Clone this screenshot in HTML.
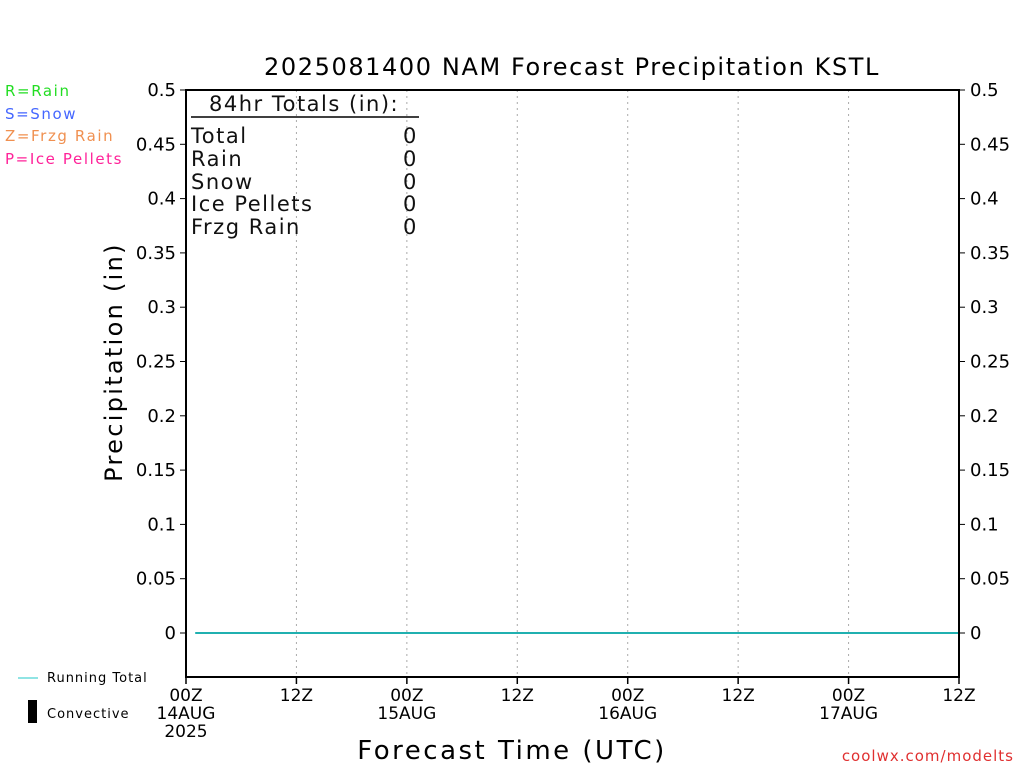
<!DOCTYPE html>
<html><head><meta charset="utf-8"><style>
body{margin:0;background:#fff}
svg{display:block;font-family:"DejaVu Sans","Liberation Sans",sans-serif}
</style></head><body>
<svg id="chart" width="1024" height="768" viewBox="0 0 1024 768">
<text x="572" y="75" font-size="24" letter-spacing="1.6" text-anchor="middle" fill="#000">2025081400 NAM Forecast Precipitation KSTL</text>
<g font-size="15" letter-spacing="1.6">
<text x="5" y="96" fill="#22dd22">R=Rain</text>
<text x="5" y="119" fill="#4466ff">S=Snow</text>
<text x="5" y="141" fill="#f09050">Z=Frzg Rain</text>
<text x="5" y="164" fill="#ff2299">P=Ice Pellets</text>
</g>
<g id="grid"></g>
<g id="series"></g>
<rect x="186" y="90" width="773" height="587" fill="none" stroke="#000" stroke-width="2"/>
<g id="yticks" font-size="17" fill="#000"></g>
<g id="xticks" font-size="16" fill="#000" text-anchor="middle"></g>
<g font-size="21" fill="#111" letter-spacing="1.5">
<text x="209" y="111">84hr Totals (in):</text>
<line x1="191" y1="117" x2="419" y2="117" stroke="#000" stroke-width="1.5"/>
<text x="191" y="143">Total</text><text x="403" y="143">0</text>
<text x="191" y="166">Rain</text><text x="403" y="166">0</text>
<text x="191" y="189">Snow</text><text x="403" y="189">0</text>
<text x="191" y="211">Ice Pellets</text><text x="403" y="211">0</text>
<text x="191" y="234">Frzg Rain</text><text x="403" y="234">0</text>
</g>
<text transform="translate(122,362) rotate(-90)" font-size="24" letter-spacing="2.3" text-anchor="middle">Precipitation (in)</text>
<text x="512" y="759" font-size="26" letter-spacing="2.5" text-anchor="middle">Forecast Time (UTC)</text>
<g font-size="13" letter-spacing="1">
<line x1="18" y1="678" x2="38" y2="678" stroke="#20c8c8" stroke-width="1"/>
<text x="47" y="682">Running Total</text>
<rect x="28" y="700" width="9" height="23" fill="#000"/>
<text x="47" y="718">Convective</text>
</g>
<text x="1014" y="761" font-size="15" fill="#e03030" letter-spacing="1" text-anchor="end">coolwx.com/modelts</text>
</svg>
<script>
const yTickValues=[0,0.05,0.1,0.15,0.2,0.25,0.3,0.35,0.4,0.45,0.5];
const yTickLabels=["0","0.05","0.1","0.15","0.2","0.25","0.3","0.35","0.4","0.45","0.5"];
const xTickHours=[0,12,24,36,48,60,72,84];
const xTickLabels=[["00Z","14AUG","2025"],["12Z"],["00Z","15AUG"],["12Z"],["00Z","16AUG"],["12Z"],["00Z","17AUG"],["12Z"]];
const forecastHours=[1,3,6,9,12,15,18,21,24,27,30,33,36,39,42,45,48,51,54,57,60,63,66,69,72,75,78,81,84];
const runningTotal=[0,0,0,0,0,0,0,0,0,0,0,0,0,0,0,0,0,0,0,0,0,0,0,0,0,0,0,0,0];
const NS="http://www.w3.org/2000/svg";
const X0=186,X1=959,Y0=633,YTOP=90;
const xs=h=>X0+(X1-X0)*h/84;
const ys=v=>Y0-(Y0-YTOP)*v/0.5;
function mk(t,a,p){const e=document.createElementNS(NS,t);for(const k in a)e.setAttribute(k,a[k]);p.appendChild(e);return e;}
const grid=document.getElementById('grid'),yt=document.getElementById('yticks'),xt=document.getElementById('xticks'),ser=document.getElementById('series');
xTickHours.forEach((h,i)=>{
  if(i>0&&i<xTickHours.length-1){const g=mk('line',{x1:xs(h),x2:xs(h),y1:90,y2:677,stroke:'#aaa','stroke-dasharray':'2,4'},grid);
  
  }
  const tk=mk('line',{x1:xs(h),x2:xs(h),y1:677,y2:684,stroke:'#000','stroke-width':1.5},xt);
  
  
  xTickLabels[i].forEach((s,j)=>{const t=mk('text',{x:xs(h),y:701+j*18,'font-size':17},xt);t.textContent=s;
  
  });
});
yTickValues.forEach((v,i)=>{
  mk('line',{x1:180,x2:186,y1:ys(v),y2:ys(v),stroke:'#000'},yt);
  mk('line',{x1:959,x2:965,y1:ys(v),y2:ys(v),stroke:'#000'},yt);
  const l=mk('text',{x:176,y:ys(v)+6,'text-anchor':'end','font-size':18},yt);l.textContent=yTickLabels[i];
  
  
  const r=mk('text',{x:970,y:ys(v)+6,'font-size':18},yt);r.textContent=yTickLabels[i];
  
  
});
const pts=forecastHours.map((h,i)=>xs(h)+','+ys(runningTotal[i])).join(' ');
const pl=mk('polyline',{points:pts,fill:'none',stroke:'#20b0b0','stroke-width':2},ser);


</script>
</body></html>
